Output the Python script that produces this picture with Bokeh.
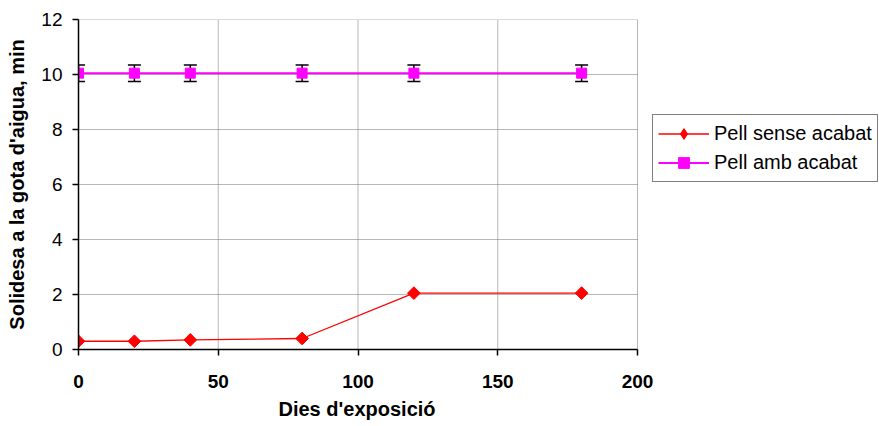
import math
from bokeh.plotting import figure
from bokeh.models import (ColumnDataSource, Whisker, TeeHead, Legend, LegendItem, Range1d,
                          FixedTicker, Title)
from bokeh.embed import file_html
from bokeh.resources import INLINE

days = [0, 20, 40, 80, 120, 180]
sense_acabat = [0.3, 0.3, 0.35, 0.4, 2.05, 2.05]
amb_acabat = [10.05, 10.05, 10.05, 10.05, 10.05, 10.05]
amb_err = [0.3, 0.3, 0.3, 0.3, 0.3, 0.3]
x_ticks = [0, 50, 100, 150, 200]
y_ticks = [0, 2, 4, 6, 8, 10, 12]
x_min, x_max = 0, 200
y_min, y_max = 0, 12

FONT = "Liberation Sans"

# Plot frame spans the full width so the legend (to the right of the data area) is not clipped;
# the axis and grid are limited to the 0..200 data area.
FRAME_LEFT, DATA_RIGHT, FRAME_RIGHT = 78, 637, 879
x_view_max = x_max * (FRAME_RIGHT - FRAME_LEFT) / (DATA_RIGHT - FRAME_LEFT)

p = figure(width=879, height=426, output_backend="svg", toolbar_location=None,
           x_range=Range1d(x_min, x_view_max), y_range=Range1d(y_min, y_max),
           min_border_left=FRAME_LEFT, min_border_right=0, min_border_top=19, min_border_bottom=77)
p.outline_line_color = None
p.xgrid.visible = False
p.ygrid.visible = False

for ax in (p.xaxis[0], p.yaxis[0]):
    ax.axis_line_color = "black"
    ax.axis_line_width = 1.5
    ax.major_tick_line_color = "black"
    ax.major_tick_line_width = 1.5
    ax.major_tick_out = 6
    ax.major_tick_in = 0
    ax.minor_tick_line_color = None
    ax.major_label_text_font = FONT
    ax.major_label_text_font_size = "19px"
    ax.major_label_text_color = "black"
    ax.axis_label_text_font = FONT
    ax.axis_label_text_font_size = "20px"
    ax.axis_label_text_font_style = "bold"
    ax.axis_label_text_color = "black"

p.xaxis.bounds = (x_min, x_max)
p.xaxis.ticker = FixedTicker(ticks=x_ticks)
p.yaxis.ticker = FixedTicker(ticks=y_ticks)
p.xaxis.major_label_text_font_style = "bold"
p.xaxis.major_label_standoff = 19
p.yaxis.major_label_standoff = 10
p.yaxis.axis_label = "Solidesa a la gota d'aigua, min"
p.yaxis.axis_label_standoff = 10

# x-axis title centred under the 0..200 data area
xt = Title(text="Dies d'exposició", align="left", offset=200, standoff=11,
           text_font=FONT, text_font_size="20px", text_font_style="bold", text_color="black")
p.add_layout(xt, "below")

# dotted grid lines (including the top and right borders of the data area)
gx = [t for t in x_ticks if t != x_min]
gy = [t for t in y_ticks if t != y_min]
p.segment(x0=gx, y0=[y_min] * len(gx), x1=gx, y1=[y_max] * len(gx),
          line_color="#707070", line_dash="1 1", line_width=1, level="underlay")
p.segment(x0=[x_min] * len(gy), y0=gy, x1=[x_max] * len(gy), y1=gy,
          line_color="#707070", line_dash="1 1", line_width=1, level="underlay")

src_red = ColumnDataSource(dict(x=days, y=sense_acabat))
lo = [a - e for a, e in zip(amb_acabat, amb_err)]
hi = [a + e for a, e in zip(amb_acabat, amb_err)]
src_mag = ColumnDataSource(dict(x=days, y=amb_acabat, lo=lo, hi=hi))

wh = Whisker(base="x", lower="lo", upper="hi", source=src_mag, dimension="height",
             line_color="black", line_width=1.5,
             upper_head=TeeHead(size=13, line_color="black", line_width=1.5),
             lower_head=TeeHead(size=13, line_color="black", line_width=1.5),
             level="underlay")
p.add_layout(wh)

r1l = p.line("x", "y", source=src_red, line_color="#FF0000", line_width=1.3)
r1d = p.scatter("x", "y", source=src_red, marker="diamond", size=1,
                fill_color="#FF0000", line_color="#FF0000")
r1s = p.scatter("x", "y", source=src_red, marker="square", size=9, angle=math.pi / 4,
                fill_color="#FF0000", line_color="#FF0000")
r2l = p.line("x", "y", source=src_mag, line_color="#FF00FF", line_width=2)
r2s = p.scatter("x", "y", source=src_mag, marker="square", size=10,
                fill_color="#FF00FF", line_color="#FF00FF")

legend = Legend(items=[LegendItem(label="Pell sense acabat", renderers=[r1l, r1d]),
                       LegendItem(label="Pell amb acabat", renderers=[r2l, r2s])],
                location=(574, 167), orientation="vertical",
                border_line_color="black", border_line_width=1.5,
                background_fill_color="white", background_fill_alpha=1,
                label_text_font=FONT, label_text_font_size="20px", label_text_color="black",
                glyph_width=51, glyph_height=27, spacing=2, padding=5, margin=0,
                label_standoff=5)
p.add_layout(legend, "center")

open("out.html", "w").write(file_html(p, INLINE))
